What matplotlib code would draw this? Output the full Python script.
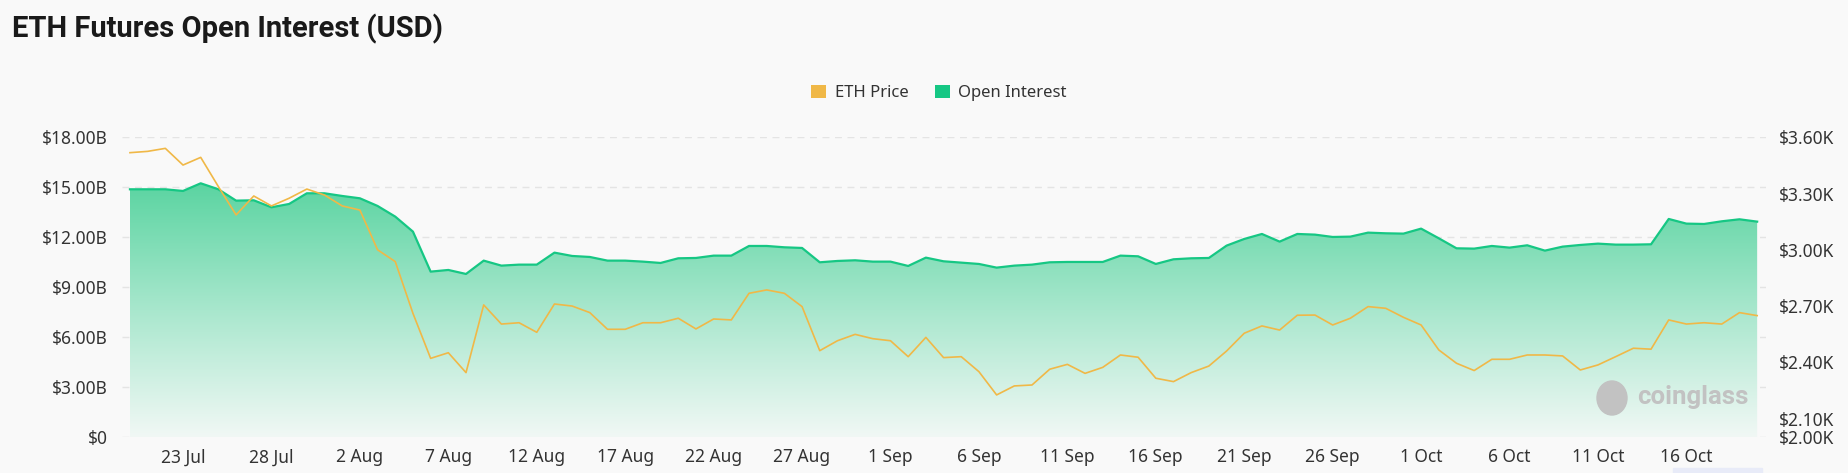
import numpy as np
import pandas as pd
import matplotlib
matplotlib.use("Agg")
import matplotlib.pyplot as plt
from matplotlib import font_manager
from matplotlib.patches import Patch, Rectangle, Ellipse
from matplotlib.colors import LinearSegmentedColormap

# daily values, 20 Jul -> 20 Oct
dates = pd.date_range("2024-07-20", "2024-10-20", freq="D")

# open interest in billions USD
open_interest = [
    14.88, 14.88, 14.88, 14.78, 15.24, 14.88, 14.20, 14.22, 13.80, 14.00,
    14.64, 14.64, 14.48, 14.34, 13.88, 13.24, 12.34, 9.94, 10.04, 9.80,
    10.60, 10.30, 10.36, 10.36, 11.08, 10.88, 10.82, 10.60, 10.60, 10.54,
    10.46, 10.74, 10.76, 10.90, 10.90, 11.48, 11.48, 11.40, 11.36, 10.50,
    10.58, 10.62, 10.54, 10.54, 10.28, 10.78, 10.56, 10.48, 10.40, 10.18,
    10.30, 10.36, 10.50, 10.52, 10.52, 10.52, 10.90, 10.86, 10.40, 10.68,
    10.74, 10.76, 11.50, 11.90, 12.20, 11.74, 12.20, 12.16, 12.02, 12.04,
    12.28, 12.24, 12.22, 12.52, 11.94, 11.34, 11.32, 11.48, 11.38, 11.52,
    11.20, 11.44, 11.54, 11.62, 11.56, 11.56, 11.58, 13.10, 12.82, 12.80,
    12.96, 13.08, 12.94,
]

# ETH price in USD
eth_price = [
    3518, 3525, 3541, 3452, 3493, 3337, 3186, 3287, 3234, 3275,
    3324, 3292, 3234, 3212, 3000, 2937, 2661, 2421, 2451, 2345,
    2706, 2604, 2611, 2560, 2711, 2700, 2665, 2576, 2576, 2611,
    2611, 2635, 2578, 2631, 2626, 2768, 2786, 2768, 2697, 2462,
    2515, 2549, 2526, 2515, 2430, 2533, 2425, 2430, 2350, 2226,
    2274, 2279, 2363, 2389, 2341, 2373, 2439, 2427, 2315, 2297,
    2345, 2380, 2460, 2555, 2594, 2572, 2651, 2652, 2599, 2635,
    2697, 2688, 2640, 2599, 2466, 2395, 2356, 2416, 2416, 2439,
    2439, 2434, 2359, 2386, 2430, 2475, 2470, 2626, 2604, 2611,
    2604, 2665, 2649,
]

oi_ticks = [0, 3, 6, 9, 12, 15, 18]
price_ticks = [2000, 2100, 2400, 2700, 3000, 3300, 3600]

GREEN = "#16c784"
GOLD = "#f0b847"
TEXT = "#333333"
BG = "#f9f9f9"

plt.rcParams["font.family"] = ["Noto Sans", "DejaVu Sans"]


def bold_family():
    # first installed family that really ships a bold face
    for fam in ["Noto Sans", "Roboto", "Lato", "Open Sans", "Liberation Sans"]:
        path = font_manager.findfont(font_manager.FontProperties(family=fam, weight="bold"),
                                     fallback_to_default=False)
        if fam.replace(" ", "").lower() in path.replace(" ", "").lower() and "bold" in path.lower():
            return fam
    return "DejaVu Sans"


BOLD = bold_family()

W, H = 1849, 473
fig = plt.figure(figsize=(W / 100, H / 100), dpi=100, facecolor=BG)
ax = fig.add_axes([122 / W, (H - 437.3) / H, 1644 / W, 300 / H])
ax.set_facecolor("none")

x = np.arange(len(dates))
oi = np.array(open_interest)

# gradient area under open interest
poly = ax.fill_between(x, oi, 0, facecolor="none", edgecolor="none")
cmap = LinearSegmentedColormap.from_list("oi", ["#f1f8f5", "#a8e7cd", "#5ad4a1"])
img = ax.imshow(np.linspace(1, 0, 256).reshape(-1, 1), cmap=cmap, aspect="auto",
                extent=[x[0], x[-1], 0, oi.max()], origin="upper", zorder=1)
img.set_clip_path(poly.get_paths()[0], transform=ax.transData)
ax.plot(x, oi, color=GREEN, lw=1.6, zorder=3)

ax.set_xlim(-0.45, 92.5)
ax.set_ylim(0, 18)
ax.set_yticks(oi_ticks)
ax.set_yticklabels(["$0"] + [f"${v:.2f}B" for v in oi_ticks[1:]])
ax.yaxis.grid(True, color="#e4e4e4", linestyle=(0, (5, 4)), linewidth=1, zorder=0)
ax.set_axisbelow(True)

tick_idx = x[3::5]
ax.set_xticks(tick_idx)
ax.set_xticklabels([f"{dates[i].day} {dates[i].strftime('%b')}" for i in tick_idx])

ax2 = ax.twinx()
ax2.set_facecolor("none")
ax2.plot(x, eth_price, color=GOLD, lw=1.2, zorder=4)
ax2.set_ylim(2000, 3600)
ax2.set_yticks(price_ticks)
ax2.set_yticklabels([f"${v / 1000:.2f}K" for v in price_ticks])

for a in (ax, ax2):
    for s in a.spines.values():
        s.set_visible(False)
    a.tick_params(length=0, labelsize=12.5, labelcolor=TEXT)
ax.tick_params(axis="y", pad=10)
ax.tick_params(axis="x", pad=8)
ax2.tick_params(axis="y", pad=9.5)

fig.text(12 / W, 1 - 29 / H, "ETH Futures Open Interest (USD)", fontsize=21,
         fontweight="bold", family=BOLD, color="#1a1a1a", va="center", ha="left")

handles = [Patch(facecolor=GOLD, label="ETH Price"),
           Patch(facecolor=GREEN, label="Open Interest")]
fig.legend(handles=handles, loc="center", bbox_to_anchor=(939 / W, 1 - 93 / H),
           ncol=2, frameon=False, fontsize=12, labelcolor=TEXT,
           handlelength=0.9, handleheight=0.9, handletextpad=0.5, columnspacing=1.6)

# watermark
fig.patches.append(Ellipse((1612 / W, 1 - 398 / H), 30 / W, 34 / H,
                           transform=fig.transFigure, color="#c2c2c2", zorder=5))
fig.text(1637 / W, 1 - 397 / H, "coinglass", fontsize=18.5, fontweight="bold",
         family=BOLD, color="#c2c2c2", va="center", ha="left", zorder=5)

fig.patches.append(Rectangle((1673 / W, 0), 89 / W, 5 / H, transform=fig.transFigure,
                             color="#e8ebf8", zorder=0))

fig.savefig("out.png", dpi=100, facecolor=BG)
